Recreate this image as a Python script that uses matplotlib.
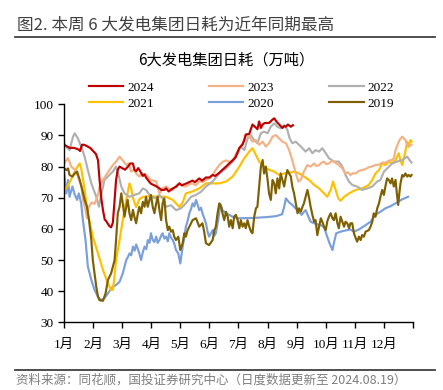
import matplotlib
matplotlib.use("Agg")
import matplotlib.pyplot as plt
from matplotlib.lines import Line2D

# x = position in months (1.0 = start of Jan), y = daily coal burn (10k t)
d2024 = [(1.0, 87), (1.1, 86.5), (1.2, 86), (1.35, 86), (1.5, 85.5), (1.55, 85), (1.62, 87), (1.7, 87),
         (1.8, 86.5), (1.9, 86), (2.0, 85), (2.1, 84), (2.17, 82), (2.22, 76), (2.28, 70), (2.34, 66),
         (2.4, 63), (2.45, 62.5), (2.55, 61), (2.62, 60.5), (2.68, 62), (2.73, 68), (2.79, 75.7), (2.85, 79),
         (2.91, 80), (3.0, 79.5), (3.1, 79), (3.2, 80), (3.28, 81), (3.37, 81), (3.42, 79), (3.48, 78.5),
         (3.55, 79.5), (3.59, 79), (3.65, 78), (3.71, 77), (3.77, 77.5), (3.82, 76.5), (3.9, 75.5), (3.99, 74.5),
         (4.1, 74), (4.2, 73.5), (4.28, 73), (4.35, 72.5), (4.45, 72.5), (4.51, 73), (4.6, 72), (4.74, 73),
         (4.85, 73.5), (4.97, 74.6), (5.05, 74), (5.19, 74.5), (5.3, 75), (5.42, 75.5), (5.5, 75), (5.65, 76.2),
         (5.75, 75.5), (5.88, 76.5), (6.0, 76.5), (6.11, 77.3), (6.2, 77), (6.34, 78), (6.45, 79), (6.57, 80),
         (6.68, 81), (6.8, 82), (6.9, 83), (7.03, 86), (7.14, 87.1), (7.2, 88.5), (7.25, 90.3), (7.37, 90.5),
         (7.48, 93.5), (7.6, 92.5), (7.65, 92), (7.71, 94.5), (7.77, 92.4), (7.83, 93.5), (7.9, 94), (8.05, 94),
         (8.17, 95.1), (8.23, 95.5), (8.3, 94.5), (8.4, 93.5), (8.51, 92.4), (8.57, 93), (8.63, 92.8), (8.7, 93.5),
         (8.8, 92.8), (8.87, 93.3)]

d2023 = [(1.0, 81), (1.08, 82), (1.14, 82.7), (1.25, 80), (1.37, 79), (1.48, 76.8), (1.6, 73.6), (1.65, 69.3),
         (1.74, 66), (1.79, 63.4), (1.85, 67), (1.95, 68.5), (2.05, 68), (2.17, 70.9), (2.22, 73.6), (2.34, 75.7),
         (2.45, 77.3), (2.57, 79), (2.68, 80.5), (2.79, 81.6), (2.91, 83.2), (3.02, 82), (3.14, 80.5), (3.22, 81),
         (3.31, 78.4), (3.4, 79), (3.48, 77.8), (3.59, 76.8), (3.7, 77.8), (3.82, 77.3), (3.99, 75.7), (4.17, 75.2),
         (4.28, 71.4), (4.39, 73), (4.51, 73.6), (4.62, 72.8), (4.74, 72.5), (4.85, 73.8), (4.97, 74.6), (5.08, 73.8),
         (5.19, 73.6), (5.3, 74.3), (5.42, 74.6), (5.53, 74), (5.65, 75.2), (5.76, 75), (5.88, 75.7), (6.0, 76.3),
         (6.11, 77.3), (6.22, 79), (6.34, 80.5), (6.45, 81.5), (6.57, 82), (6.68, 81.5), (6.8, 82), (6.97, 85),
         (7.14, 87.5), (7.25, 90.1), (7.37, 89.6), (7.48, 88), (7.6, 88.5), (7.71, 87), (7.83, 88), (7.94, 86.4),
         (8.05, 87.5), (8.17, 89.6), (8.28, 90.1), (8.4, 89), (8.51, 88), (8.63, 87.5), (8.74, 85.3), (8.85, 82),
         (8.97, 77.8), (9.06, 75.2), (9.14, 75.7), (9.25, 78.4), (9.37, 80.5), (9.48, 80), (9.6, 81), (9.68, 80.2),
         (9.77, 80.5), (9.85, 81.2), (9.94, 81.6), (10.02, 80.8), (10.11, 81), (10.2, 81.8), (10.28, 81.6),
         (10.37, 81), (10.45, 80.5), (10.57, 79.4), (10.68, 77.8), (10.76, 78.2), (10.85, 77.3), (10.94, 77.9),
         (11.03, 77.8), (11.14, 78.6), (11.25, 78.9), (11.37, 79.2), (11.48, 79.8), (11.6, 80.1), (11.71, 80.5),
         (11.83, 80.6), (11.94, 81.3), (12.05, 81.2), (12.17, 81.9), (12.28, 82.1), (12.34, 82.7), (12.4, 85.3),
         (12.51, 88), (12.57, 89), (12.63, 89.6), (12.74, 88.5), (12.8, 87), (12.85, 86.4), (12.95, 87)]

d2022 = [(1.0, 87.5), (1.08, 86.4), (1.19, 85.3), (1.31, 89.6), (1.37, 90.7), (1.48, 89), (1.59, 86.4),
         (1.71, 83.2), (1.82, 78.9), (1.94, 74.6), (2.11, 70.3), (2.2, 67.1), (2.28, 70.9), (2.39, 75.7),
         (2.51, 76.8), (2.68, 78.4), (2.79, 80), (2.89, 76.8), (2.97, 73.6), (3.08, 71.4), (3.25, 70.3),
         (3.42, 70.9), (3.59, 71.4), (3.71, 73), (3.82, 72.5), (3.99, 70.3), (4.17, 69.8), (4.28, 70.9),
         (4.39, 69.8), (4.51, 67.1), (4.68, 67.6), (4.85, 66), (5.02, 66.6), (5.19, 68.2), (5.37, 70.3),
         (5.54, 70.9), (5.71, 71.9), (5.88, 73.6), (6.11, 75.2), (6.34, 77.8), (6.57, 79.4), (6.8, 81.6),
         (6.97, 84.3), (7.08, 86.4), (7.2, 85.3), (7.31, 89), (7.43, 90.1), (7.54, 88.5), (7.65, 87.5),
         (7.77, 90.7), (7.88, 91.2), (8.0, 90.7), (8.11, 92.8), (8.23, 93.9), (8.34, 92.8), (8.45, 92.3),
         (8.57, 93.3), (8.68, 91.8), (8.76, 89), (8.85, 87.5), (8.97, 88), (9.08, 87), (9.2, 85.9), (9.31, 84.8),
         (9.43, 85.9), (9.54, 84.3), (9.65, 85.3), (9.77, 84.8), (9.88, 85.9), (10.0, 84.3), (10.11, 82.7),
         (10.28, 81.6), (10.45, 81.6), (10.57, 80), (10.68, 77.3), (10.8, 75.2), (10.91, 74.1), (11.08, 73.6),
         (11.25, 72.5), (11.43, 73), (11.6, 73.6), (11.77, 75.2), (11.88, 75.7), (12.0, 78.4), (12.11, 79.4),
         (12.28, 81), (12.45, 81.6), (12.63, 82.1), (12.8, 83.2), (12.88, 82.1), (12.95, 81.3)]

d2021 = [(1.0, 72), (1.1, 73.5), (1.2, 75), (1.3, 77), (1.4, 79), (1.5, 80.5), (1.54, 81), (1.6, 79),
         (1.71, 72.5), (1.82, 65), (1.99, 57.5), (2.17, 52.1), (2.34, 46.8), (2.51, 42.5), (2.62, 40.4),
         (2.68, 40.4), (2.74, 45), (2.79, 50), (2.91, 56.4), (3.02, 62.8), (3.14, 69.3), (3.25, 74.6), (3.31, 73),
         (3.37, 70), (3.48, 67), (3.59, 69.5), (3.71, 70.3), (3.96, 70.5), (4.28, 70.3), (4.51, 70.3),
         (4.74, 69.3), (4.97, 67), (5.08, 68.5), (5.19, 71.4), (5.42, 72), (5.65, 73), (5.88, 74.6), (6.11, 74.6),
         (6.34, 74.6), (6.57, 75.2), (6.8, 76.8), (7.03, 80), (7.2, 82.7), (7.37, 84.8), (7.48, 85.9), (7.6, 83.7),
         (7.71, 81.6), (7.88, 80), (8.05, 79), (8.23, 78.4), (8.4, 77.3), (8.57, 77.8), (8.74, 78), (8.91, 78.4),
         (9.08, 77.8), (9.25, 76.8), (9.43, 75.7), (9.6, 74.1), (9.77, 73), (9.94, 71.4), (10.05, 70.3),
         (10.17, 72.5), (10.25, 75.2), (10.34, 72.5), (10.43, 69.8), (10.51, 69), (10.63, 70.3), (10.8, 71.4),
         (11.03, 72.5), (11.25, 73), (11.48, 74.1), (11.6, 75.7), (11.71, 77.8), (11.83, 78.9), (11.94, 81),
         (12.05, 80.5), (12.17, 81.6), (12.28, 81), (12.4, 82.1), (12.51, 84.3), (12.57, 82), (12.63, 80.5),
         (12.72, 84), (12.8, 88), (12.85, 86.4), (12.91, 88.5), (12.95, 88)]

d2020 = [(1.0, 78.4), (1.08, 71.4), (1.14, 75.7), (1.19, 70.3), (1.29, 73.6), (1.37, 71), (1.45, 69.3),
         (1.51, 71.4), (1.59, 68.2), (1.65, 62.8), (1.74, 56.4), (1.82, 47.9), (1.94, 43.6), (2.05, 40.4),
         (2.17, 38.2), (2.28, 37.1), (2.39, 37.7), (2.51, 39.3), (2.6, 40.5), (2.68, 41.4), (2.79, 42),
         (2.91, 43), (3.02, 45.7), (3.14, 50), (3.2, 51), (3.25, 52.1), (3.31, 51.5), (3.37, 54.3), (3.43, 53),
         (3.48, 55), (3.54, 53.5), (3.59, 52.1), (3.65, 50), (3.71, 52.5), (3.77, 54.3), (3.83, 53.5),
         (3.88, 56.4), (3.94, 55.5), (3.99, 58.6), (4.05, 56.4), (4.11, 55.8), (4.17, 57.5), (4.22, 55.5),
         (4.28, 56.4), (4.34, 57.8), (4.39, 58.6), (4.45, 56.9), (4.51, 57.5), (4.57, 56), (4.62, 58.6),
         (4.68, 57.2), (4.74, 56.4), (4.8, 55), (4.85, 53.2), (4.93, 52.1), (5.0, 48.9), (5.08, 54.3),
         (5.14, 57.5), (5.19, 60.7), (5.25, 62.5), (5.31, 65), (5.37, 66.5), (5.42, 68.2), (5.48, 67.2),
         (5.54, 69.3), (5.6, 67.6), (5.65, 66), (5.71, 66.8), (5.76, 65), (5.82, 63.5), (5.88, 61.8), (5.94, 59),
         (5.99, 57.5), (6.05, 58.5), (6.11, 59.6), (6.17, 57.8), (6.22, 58.6), (6.3, 62.8), (6.38, 68),
         (6.45, 66), (6.57, 65), (6.68, 64.5), (6.8, 63.9), (7.0, 63.4), (7.5, 63.5), (8.0, 63.8), (8.3, 64.1),
         (8.5, 64.7), (8.57, 67.1), (8.63, 69.8), (8.74, 68.5), (8.85, 67.7), (8.97, 66.5), (9.08, 65.5),
         (9.17, 64.5), (9.25, 65.5), (9.31, 66), (9.4, 64), (9.48, 62.3), (9.65, 61.6), (9.83, 61.2),
         (9.94, 60.5), (10.05, 57.5), (10.13, 55.4), (10.23, 53.2), (10.28, 55.4), (10.36, 58.6), (10.51, 59.1),
         (10.68, 59.5), (10.85, 59.8), (10.97, 59.1), (11.14, 59.8), (11.37, 61.2), (11.54, 62.3), (11.71, 64.5),
         (11.88, 65.5), (12.05, 66.6), (12.23, 67.3), (12.4, 68.2), (12.63, 69.5), (12.83, 70.3)]

d2019 = [(1.0, 79.4), (1.08, 78.9), (1.14, 79.4), (1.19, 77.3), (1.29, 76.8), (1.37, 77.8), (1.45, 78.4),
         (1.54, 75.7), (1.63, 72.5), (1.71, 69.3), (1.79, 67.1), (1.86, 62.8), (1.94, 56.4), (1.99, 50),
         (2.05, 45.7), (2.11, 41.4), (2.17, 38.2), (2.22, 37.1), (2.34, 36.9), (2.43, 39.3), (2.51, 43.6),
         (2.62, 45.7), (2.74, 50), (2.79, 56.4), (2.85, 65), (2.91, 67.1), (2.97, 71.4), (3.02, 68.2),
         (3.08, 63.9), (3.14, 67.1), (3.19, 69.3), (3.25, 65), (3.31, 62.8), (3.37, 66.1), (3.42, 63.9),
         (3.48, 61.8), (3.54, 65), (3.59, 67.1), (3.65, 65), (3.71, 68.7), (3.77, 67.1), (3.82, 70.3),
         (3.88, 67.1), (3.94, 69.3), (3.99, 70.9), (4.05, 67.1), (4.11, 65), (4.17, 68.2), (4.22, 70.3),
         (4.28, 66.1), (4.34, 62.8), (4.39, 68.2), (4.45, 69.8), (4.51, 62.8), (4.57, 59.6), (4.62, 60.7),
         (4.68, 59.1), (4.74, 59.6), (4.79, 57.5), (4.85, 56.4), (4.93, 57.5), (5.0, 53.2), (5.08, 55.4),
         (5.14, 58.6), (5.19, 57.5), (5.25, 59.6), (5.31, 60.7), (5.42, 62.8), (5.54, 63.4), (5.65, 60.7),
         (5.76, 61.8), (5.82, 59.1), (5.88, 55.4), (5.99, 54.8), (6.11, 56.4), (6.17, 59.6), (6.22, 60.7),
         (6.28, 65), (6.34, 68.2), (6.4, 67.1), (6.45, 65), (6.51, 62.8), (6.57, 65.5), (6.63, 63.9), (6.68, 60.7),
         (6.74, 62.8), (6.8, 60.2), (6.85, 63.9), (6.91, 64.5), (6.97, 62.8), (7.03, 60.2), (7.08, 62.8),
         (7.14, 60.7), (7.2, 61.8), (7.25, 60.2), (7.31, 62.8), (7.37, 60.7), (7.43, 59.1), (7.48, 58.6),
         (7.54, 63.9), (7.6, 66.6), (7.65, 67.1), (7.71, 73.6), (7.77, 80), (7.83, 82.1), (7.88, 77.8),
         (7.94, 80), (8.0, 75.7), (8.05, 71.4), (8.11, 69.3), (8.17, 75.7), (8.23, 74.6), (8.28, 71.4),
         (8.34, 76.2), (8.4, 73), (8.45, 77.8), (8.51, 75.7), (8.57, 73.6), (8.63, 76.8), (8.68, 78.9),
         (8.74, 77.8), (8.8, 76.8), (8.85, 73.6), (8.91, 71.4), (8.97, 68.2), (9.03, 65), (9.08, 66.6),
         (9.14, 65.5), (9.2, 67.1), (9.25, 68.2), (9.31, 70.3), (9.37, 72.5), (9.43, 69.8), (9.48, 67.1),
         (9.54, 64.5), (9.6, 62.3), (9.65, 62.8), (9.71, 58), (9.77, 60.7), (9.83, 63.4), (9.88, 62.3),
         (9.94, 60.7), (10.0, 59.6), (10.05, 62.3), (10.11, 63.9), (10.17, 65), (10.23, 63.4), (10.28, 62.8),
         (10.34, 65), (10.4, 61.8), (10.45, 60.2), (10.51, 63.9), (10.57, 62.3), (10.63, 60.7), (10.68, 62.3),
         (10.74, 61.8), (10.8, 60.2), (10.85, 61.8), (10.91, 61.8), (10.97, 58.6), (11.03, 57), (11.08, 55.9),
         (11.14, 57.5), (11.2, 56.4), (11.25, 58), (11.31, 57.5), (11.37, 59.1), (11.48, 59.6), (11.54, 60.7),
         (11.6, 62.3), (11.65, 65), (11.71, 63.9), (11.77, 66.6), (11.83, 68.2), (11.88, 70.3), (11.94, 72.5),
         (12.0, 70.9), (12.05, 73.6), (12.11, 76.2), (12.17, 75.7), (12.23, 74.6), (12.28, 76.2), (12.34, 73.6),
         (12.4, 75.7), (12.45, 70.9), (12.49, 67.7), (12.53, 71.4), (12.57, 74.6), (12.63, 77.3), (12.68, 76.8),
         (12.74, 77.8), (12.8, 76.8), (12.85, 77.3), (12.91, 76.8), (12.95, 77.3)]

months = ['1月', '2月', '3月', '4月', '5月', '6月', '7月', '8月', '9月', '10月', '11月', '12月']

series = {'2024': d2024, '2023': d2023, '2022': d2022, '2021': d2021, '2020': d2020, '2019': d2019}
colors = {'2024': '#C00000', '2023': '#F4B183', '2022': '#B0B0B0',
          '2021': '#FFC000', '2020': '#7A9FDB', '2019': '#7F6000'}
draw_order = ['2020', '2021', '2022', '2023', '2019', '2024']
legend_order = ['2024', '2021', '2023', '2020', '2022', '2019']  # ncol=3 fills by column

plt.rcParams['font.family'] = ['Liberation Serif', 'Noto Sans CJK SC']
cjk = ['Noto Sans CJK SC', 'DejaVu Sans']

fig = plt.figure(figsize=(4.43, 3.90), dpi=100)
ax = fig.add_axes([64 / 443, 1 - 322.3 / 390, 349 / 443, 218 / 390])

lines = {}
for yr in draw_order:
    xs, ys = zip(*series[yr])
    lines[yr], = ax.plot(xs, ys, color=colors[yr], lw=1.55, label=yr, solid_joinstyle='round')

ax.set_xlim(1, 13)
ax.set_ylim(30, 100)
ax.set_yticks(range(30, 101, 10))
ax.set_xticks(range(1, 14))
ax.set_xticklabels(months + [''])
for s in ['top', 'right']:
    ax.spines[s].set_visible(False)
for s in ['left', 'bottom']:
    ax.spines[s].set_linewidth(1.0)
ax.tick_params(axis='both', direction='out', length=4, width=1, labelsize=9.5)
ax.tick_params(axis='x', pad=8)

ax.legend([lines[y] for y in legend_order], legend_order, ncol=3, frameon=False,
          loc='center', bbox_to_anchor=(0.545, 1 - 95.5 / 390), bbox_transform=fig.transFigure,
          fontsize=9.5, handlelength=2.6, handletextpad=0.3, columnspacing=4.2, labelspacing=0.3)

fig.text(17 / 443, 1 - 25 / 390, '图2. 本周 6 大发电集团日耗为近年同期最高', family=cjk,
         fontsize=12, color='#404040', va='center', ha='left')
fig.add_artist(Line2D([15 / 443, 435 / 443], [1 - 36.5 / 390] * 2, color='#404040', lw=1.3))
fig.text(226 / 443, 1 - 60 / 390, '6大发电集团日耗（万吨）', family=cjk,
         fontsize=11, color='black', va='center', ha='center')
fig.add_artist(Line2D([15 / 443, 435 / 443], [1 - 370 / 390] * 2, color='#404040', lw=1.3))
fig.text(16 / 443, 1 - 380.5 / 390, '资料来源：同花顺，国投证券研究中心（日度数据更新至 2024.08.19）', family=cjk,
         fontsize=9, color='#7F7F7F', va='center', ha='left', style='italic')

fig.savefig('out.png', dpi=100)
